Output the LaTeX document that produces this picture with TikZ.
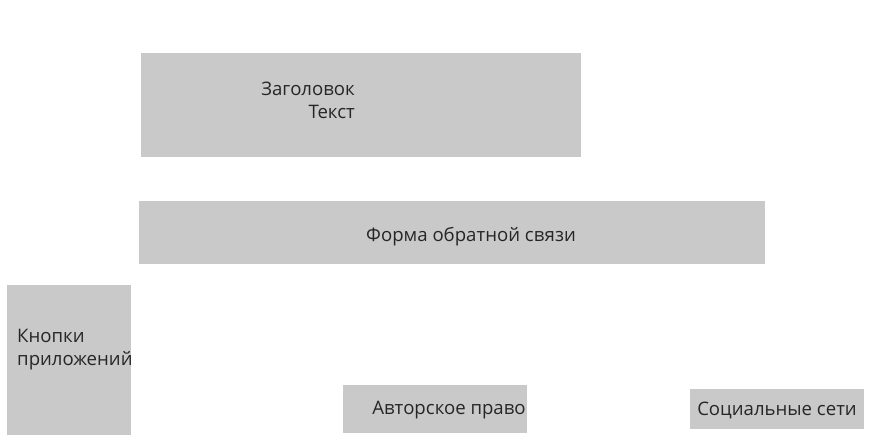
\documentclass[tikz,border=0pt]{standalone}
\usepackage{fontspec}
\setmainfont{Open Sans}
\begin{document}
\begin{tikzpicture}[x=1pt,y=-1pt,
  blk/.style={fill=boxgray,draw=none},
  lbl/.style={inner sep=0pt,font=\fontsize{18.6}{23}\selectfont,text=black!85}]
\definecolor{boxgray}{HTML}{C9C9C9}
\useasboundingbox (0,0) rectangle (892,441);
\fill[white] (0,0) rectangle (892,441);
\path[blk] (141,53) rectangle (581,157);
\path[blk] (139,201) rectangle (765,264);
\path[blk] (7,285) rectangle (131,435);
\path[blk] (343,385) rectangle (527,433);
\path[blk] (690,389) rectangle (864,429);
\node[lbl,align=right,anchor=east] (t1) at (355,100) {Заголовок\\Текст};
\node[lbl] (t2) at (471,237) {Форма обратной связи};
\node[lbl,align=left,anchor=west] (t3) at (17,350) {Кнопки\\приложений};
\node[lbl] (t4) at (449,410) {Авторское право};
\node[lbl] (t5) at (777,410) {Социальные сети};
\end{tikzpicture}
\end{document}
